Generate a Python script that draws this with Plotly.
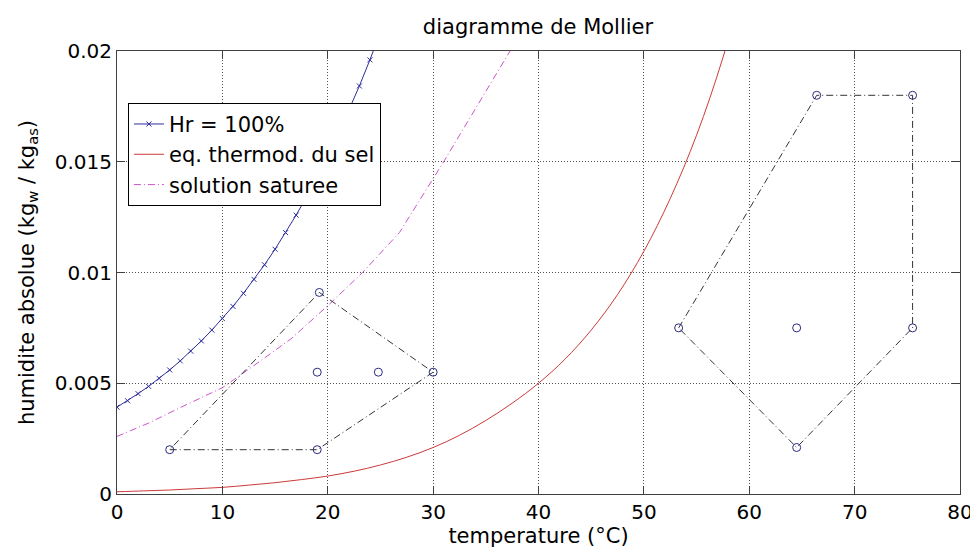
import plotly.graph_objects as go

# ---------------- data ----------------
hr_T = list(range(0, 26))
hr_h = [0.00392, 0.00421, 0.00453, 0.00486, 0.00522, 0.00560, 0.00601, 0.00645,
        0.00691, 0.00740, 0.00792, 0.00847, 0.00906, 0.00969, 0.01035, 0.01105,
        0.01180, 0.01259, 0.01343, 0.01431, 0.01526, 0.01625, 0.01731, 0.01842,
        0.01960, 0.02085]

salt_T = [0, 2.5, 5, 7.5, 10, 12.5, 15, 17.5, 20, 22.5, 25, 27.5, 30, 32.5, 35,
          37.5, 40, 42.5, 45, 47.5, 50, 52.5, 55, 57.5, 60]
salt_h = [0.0001, 0.00014, 0.00018, 0.00024, 0.0003, 0.0004, 0.00051, 0.00065,
          0.00081, 0.00103, 0.00131, 0.00166, 0.00210, 0.00265, 0.00332, 0.0041,
          0.0050, 0.00608, 0.0074, 0.0090, 0.01096, 0.01334, 0.0162, 0.0197, 0.0240]

sol_T = [0, 3, 6, 10, 13, 16.5, 20, 23.3, 26.8, 31, 37.3, 38]
sol_h = [0.0026, 0.0032, 0.0039, 0.0048, 0.0058, 0.0070, 0.0085, 0.0100,
         0.0118, 0.0150, 0.0200, 0.0205]

zone1_T = [5, 19, 30, 19.2, 5]
zone1_h = [0.002, 0.002, 0.0055, 0.0091, 0.002]
pts1_T = [5, 19, 30, 19.2, 19, 24.8]
pts1_h = [0.002, 0.002, 0.0055, 0.0091, 0.0055, 0.0055]

zone2_T = [53.3, 66.4, 75.5, 75.5, 64.5, 53.3]
zone2_h = [0.0075, 0.018, 0.018, 0.0075, 0.0021, 0.0075]
pts2_T = [53.3, 66.4, 75.5, 75.5, 64.5, 64.5]
pts2_h = [0.0075, 0.018, 0.018, 0.0075, 0.0021, 0.0075]

x_ticks = [0, 10, 20, 30, 40, 50, 60, 70, 80]
x_ticktext = ["0", "10", "20", "30", "40", "50", "60", "70", "80"]
y_ticks = [0, 0.005, 0.01, 0.015, 0.02]
y_ticktext = ["0", "0.005", "0.01", "0.015", "0.02"]

names = ["Hr = 100%", "eq. thermod. du sel", "solution saturee"]

# ---------------- styles ----------------
FONT = "DejaVu Sans"
BLUE = "#2e2e9c"
RED = "#cc3a3a"
MAG = "#cc55cc"
DASHDOT = "7px,3px,1px,3px"

fig = go.Figure()

fig.add_trace(go.Scatter(x=hr_T, y=hr_h, mode="lines+markers", name=names[0],
                         legendgroup="a",
                         line=dict(color=BLUE, width=1),
                         marker=dict(symbol="x-thin", size=5,
                                     line=dict(color=BLUE, width=1), color=BLUE)))
fig.add_trace(go.Scatter(x=salt_T, y=salt_h, mode="lines", name=names[1],
                         legendgroup="b", line_shape="spline",
                         line=dict(color=RED, width=1)))
fig.add_trace(go.Scatter(x=sol_T, y=sol_h, mode="lines", name=names[2],
                         legendgroup="c",
                         line=dict(color=MAG, width=1, dash=DASHDOT)))

for zx, zy in [(zone1_T, zone1_h), (zone2_T, zone2_h)]:
    fig.add_trace(go.Scatter(x=zx, y=zy, mode="lines", showlegend=False,
                             line=dict(color="#333333", width=1, dash=DASHDOT)))
for px, py in [(pts1_T, pts1_h), (pts2_T, pts2_h)]:
    fig.add_trace(go.Scatter(x=px, y=py, mode="markers", showlegend=False,
                             marker=dict(symbol="circle-open", size=8,
                                         color="#2a2a80",
                                         line=dict(width=1, color="#2a2a80"))))

axis_common = dict(showline=True, linecolor="#404040", linewidth=1, mirror="ticks",
                   ticks="inside", ticklen=8, tickcolor="#404040",
                   showgrid=True, gridcolor="#505050", gridwidth=1, griddash="1px,2px",
                   zeroline=False, automargin=False,
                   tickfont=dict(family=FONT, size=20, color="black"))

fig.update_xaxes(range=[0, 80], tickvals=x_ticks, ticktext=x_ticktext,
                 title=dict(text="temperature (°C)", standoff=4,
                            font=dict(family=FONT, size=21, color="black")),
                 **axis_common)
fig.update_yaxes(range=[0, 0.02], tickvals=y_ticks, ticktext=y_ticktext,
                 title=dict(text="humidite absolue (kg<sub>w</sub> / kg<sub>as</sub>)",
                            standoff=14,
                            font=dict(family=FONT, size=21, color="black")),
                 **axis_common)

# the page body adds an 8px offset: the figure is sized to fit the window
fig.update_layout(
    width=970, height=541,
    margin=dict(l=109, r=18, t=43, b=55),
    paper_bgcolor="white", plot_bgcolor="white",
    font=dict(family=FONT, size=21, color="black"),
    title=dict(text="diagramme de Mollier", x=0.5464, xanchor="center",
               y=0.966, yanchor="middle", automargin=False,
               font=dict(family=FONT, size=21, color="black")),
    legend=dict(x=0.013, y=0.883, xanchor="left", yanchor="top",
                bgcolor="white", bordercolor="black", borderwidth=1,
                font=dict(family=FONT, size=21, color="black"),
                tracegroupgap=0),
    showlegend=True,
)

fig.write_html("out.html")
